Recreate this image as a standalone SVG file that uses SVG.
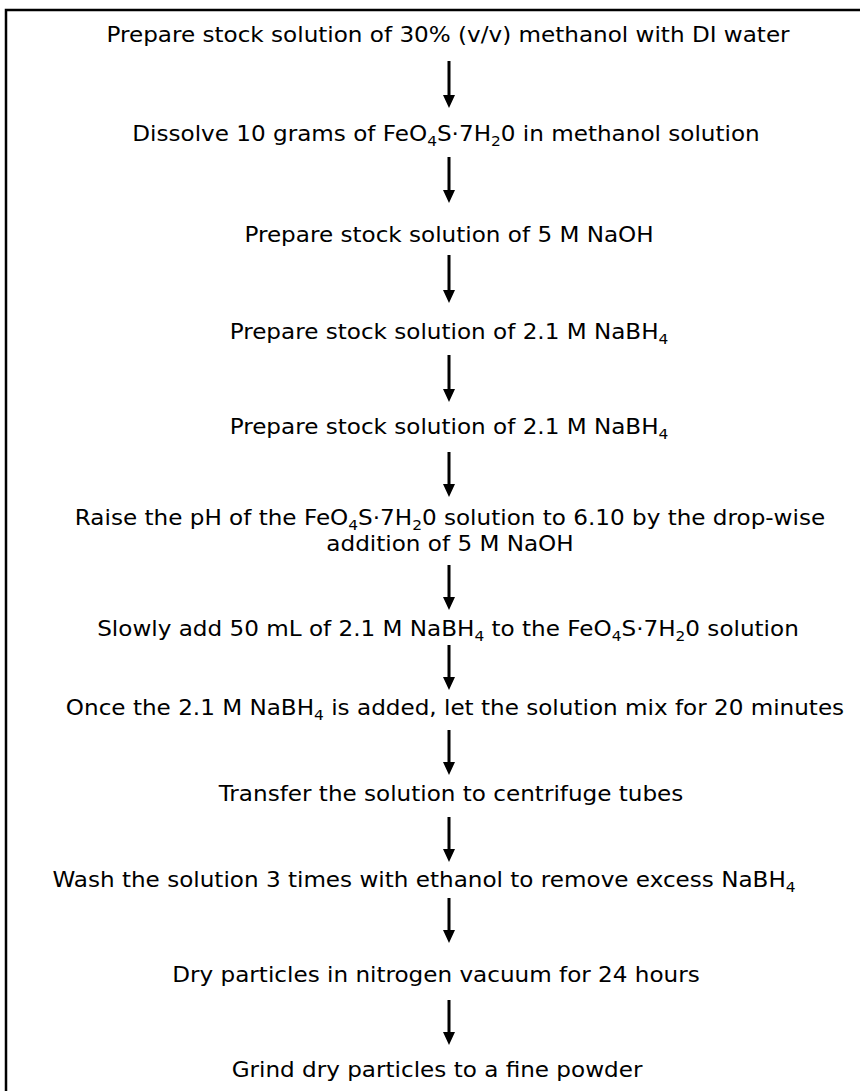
<svg xmlns="http://www.w3.org/2000/svg" width="860" height="1091" viewBox="0 0 860 1091">
<style>
.t{font-family:"DejaVu Sans","Liberation Sans",sans-serif;font-size:21px;fill:#000;text-anchor:middle}
.s{font-size:14px}
.a{stroke:#000;stroke-width:3;fill:none}
</style>
<rect width="860" height="1091" fill="#fff"/>
<path d="M6 1091V10H860" fill="none" stroke="#000" stroke-width="2.5"/>
<g id="n1"><text class="t" transform="translate(448 42) scale(1.1 1)">Prepare stock solution of 30% (v/v) methanol with DI water</text></g>
<g id="n2"><text class="t" transform="translate(446 141) scale(1.1 1)">Dissolve 10 grams of FeO<tspan class="s" dy="5">4</tspan><tspan dy="-5">S·7H</tspan><tspan class="s" dy="5">2</tspan><tspan dy="-5">0 in methanol solution</tspan></text></g>
<g id="n3"><text class="t" transform="translate(449 242) scale(1.1 1)">Prepare stock solution of 5 M NaOH</text></g>
<g id="n4"><text class="t" transform="translate(449 339) scale(1.1 1)">Prepare stock solution of 2.1 M NaBH<tspan class="s" dy="5">4</tspan></text></g>
<g id="n5"><text class="t" transform="translate(449 434) scale(1.1 1)">Prepare stock solution of 2.1 M NaBH<tspan class="s" dy="5">4</tspan></text></g>
<g id="n6"><text class="t" transform="translate(450 525) scale(1.1 1)">Raise the pH of the FeO<tspan class="s" dy="5">4</tspan><tspan dy="-5">S·7H</tspan><tspan class="s" dy="5">2</tspan><tspan dy="-5">0 solution to 6.10 by the drop-wise</tspan></text>
<text class="t" transform="translate(450 551) scale(1.1 1)">addition of 5 M NaOH</text></g>
<g id="n7"><text class="t" transform="translate(448 636) scale(1.1 1)">Slowly add 50 mL of 2.1 M NaBH<tspan class="s" dy="5">4</tspan><tspan dy="-5"> to the FeO</tspan><tspan class="s" dy="5">4</tspan><tspan dy="-5">S·7H</tspan><tspan class="s" dy="5">2</tspan><tspan dy="-5">0 solution</tspan></text></g>
<g id="n8"><text class="t" transform="translate(455 715) scale(1.1 1)">Once the 2.1 M NaBH<tspan class="s" dy="5">4</tspan><tspan dy="-5"> is added, let the solution mix for 20 minutes</tspan></text></g>
<g id="n9"><text class="t" transform="translate(451 801) scale(1.1 1)">Transfer the solution to centrifuge tubes</text></g>
<g id="n10"><text class="t" transform="translate(424 887) scale(1.1 1)">Wash the solution 3 times with ethanol to remove excess NaBH<tspan class="s" dy="5">4</tspan></text></g>
<g id="n11"><text class="t" transform="translate(436 982) scale(1.1 1)">Dry particles in nitrogen vacuum for 24 hours</text></g>
<g id="n12"><text class="t" transform="translate(437 1077) scale(1.1 1)">Grind dry particles to a fine powder</text></g>
<g id="connectors" fill="#000">
<path class="a" d="M449 61V97M449 157V192M449 255V292M449 355V391M449 452V486M449 565V599M449 645V679M449 730V764M449 817V851M449 898V932M449 1000V1034"/>
<path d="M443 95h12l-6 13zM443 190h12l-6 13zM443 290h12l-6 13zM443 389h12l-6 13zM443 484h12l-6 13zM443 597h12l-6 13zM443 677h12l-6 13zM443 762h12l-6 13zM443 849h12l-6 13zM443 930h12l-6 13zM443 1032h12l-6 13z"/>
</g>
</svg>
